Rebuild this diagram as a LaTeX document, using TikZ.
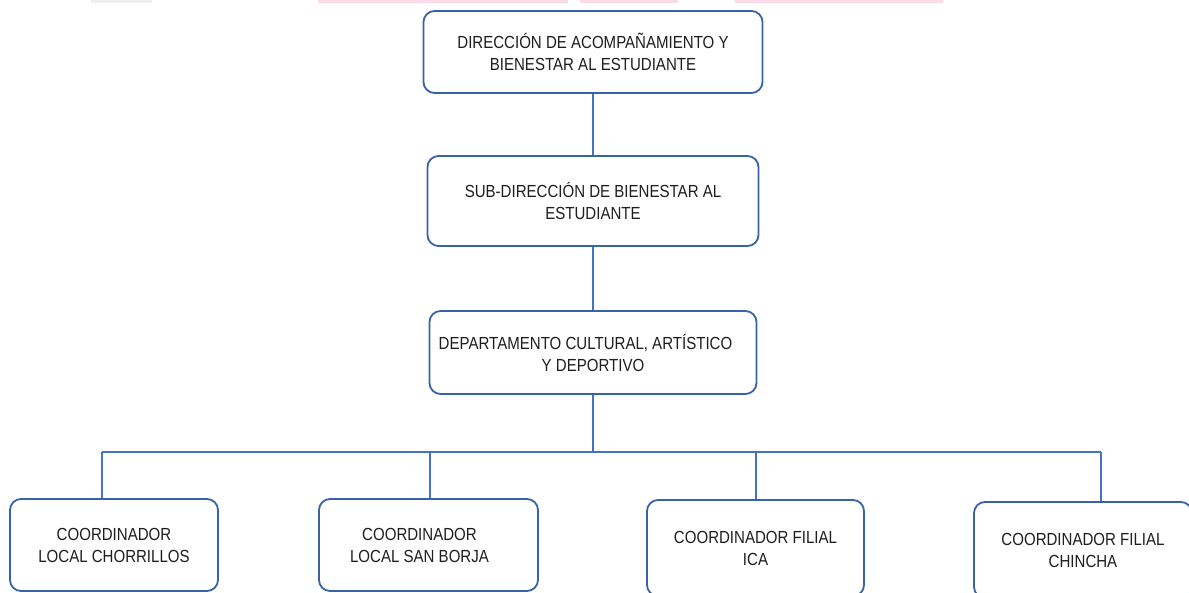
\documentclass[tikz,border=0pt]{standalone}
\usepackage{fontspec}
\setmainfont{Liberation Sans}[FakeStretch=0.86]
\definecolor{boxblue}{HTML}{3A62A8}
\definecolor{lineblue}{HTML}{4472C4}
\definecolor{txt}{HTML}{1E1E1E}
\definecolor{fadepink}{HTML}{F9DCE8}
\definecolor{fadegray}{HTML}{EEEEEE}
\begin{document}
\begin{tikzpicture}[x=1pt,y=-1pt,
  orgbox/.style={draw=boxblue, line width=1.8pt, rounded corners=11pt, fill=white,
    align=center, text=txt, font=\fontsize{17.5}{22}\selectfont, inner sep=0pt},
  conn/.style={draw=lineblue, line width=1.6pt}]
\useasboundingbox (0,0) rectangle (1189,593);
% faint remnants at the top edge
\fill[fadegray] (91,0) rectangle (152,3);
\fill[fadepink] (318,0) rectangle (568,3);
\fill[fadepink] (580,0) rectangle (678,3);
\fill[fadepink] (735,0) rectangle (943,3);
% boxes
\node[orgbox, minimum width=339pt, minimum height=82pt] (top) at (593,52) {DIRECCIÓN DE ACOMPAÑAMIENTO Y\\BIENESTAR AL ESTUDIANTE};
\node[orgbox, minimum width=331pt, minimum height=90pt] (sub) at (593,201) {SUB-DIRECCIÓN DE BIENESTAR AL\\ESTUDIANTE};
\node[orgbox, minimum width=327pt, minimum height=83pt] (dep) at (593,352.5) {DEPARTAMENTO CULTURAL, ARTÍSTICO\hspace*{15pt}\\Y DEPORTIVO};
\node[orgbox, minimum width=208pt, minimum height=92pt] (b1) at (114,545) {COORDINADOR\\LOCAL CHORRILLOS};
\node[orgbox, minimum width=219pt, minimum height=92pt] (b2) at (428.5,545) {COORDINADOR\hspace*{18pt}\\LOCAL SAN BORJA\hspace*{18pt}};
\node[orgbox, minimum width=217pt, minimum height=96pt] (b3) at (755.5,548) {COORDINADOR FILIAL\\ICA};
\node[orgbox, minimum width=218pt, minimum height=96pt] (b4) at (1083,550) {COORDINADOR FILIAL\\CHINCHA};
% connectors
\coordinate (bus) at (593,452);
\coordinate (d1) at (102,452);
\coordinate (d2) at (430,452);
\coordinate (d3) at (756,452);
\coordinate (d4) at (1101,452);
\draw[conn] (top.south) -- (sub.north);
\draw[conn] (sub.south) -- (dep.north);
\draw[conn] (dep.south) -- (bus);
\draw[conn] (d1) -- (d4);
\draw[conn] (d1) -- (d1 |- b1.north);
\draw[conn] (d2) -- (d2 |- b2.north);
\draw[conn] (d3) -- (d3 |- b3.north);
\draw[conn] (d4) -- (d4 |- b4.north);
\end{tikzpicture}
\end{document}
